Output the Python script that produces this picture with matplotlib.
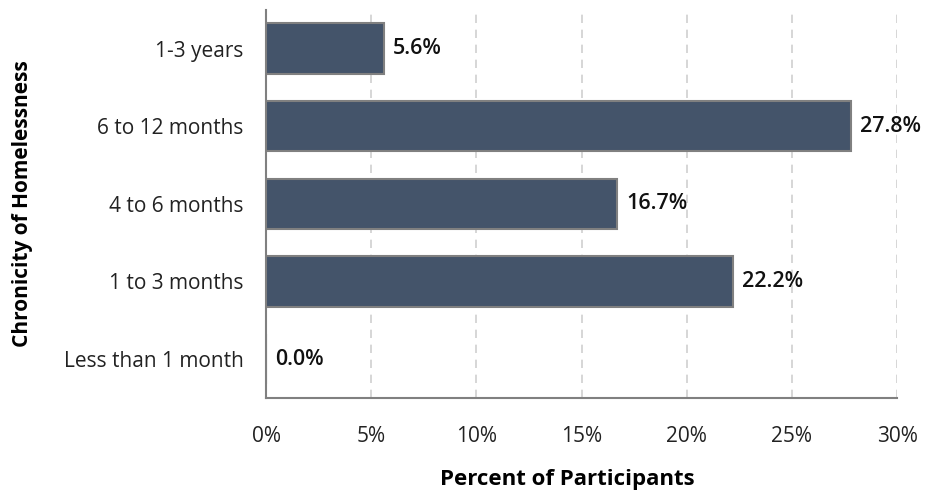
import matplotlib.pyplot as plt

categories = ["Less than 1 month", "1 to 3 months", "4 to 6 months", "6 to 12 months", "1-3 years"]
values = [0.0, 22.2, 16.7, 27.8, 5.6]
xticks = [0, 5, 10, 15, 20, 25, 30]

plt.rcParams['font.family'] = ['Open Sans', 'DejaVu Sans']

fig = plt.figure(figsize=(9.25, 4.93), dpi=100)
ax = fig.add_axes([0.2876, 0.193, 0.6822, 0.787])

ax.barh(range(len(categories)), values, height=0.65, color='#44546A',
        edgecolor='#808080', linewidth=1.5, zorder=3)

for i, v in enumerate(values):
    ax.text(v + 0.45, i, f"{v:.1f}%", va='center', ha='left', fontsize=15.5,
            color='#111111', fontweight='semibold', zorder=4)

ax.set_xlim(0, 30)
ax.set_ylim(-0.5, 4.5)
ax.set_xticks(xticks)
ax.set_xticklabels([f"{t}%" for t in xticks])
ax.set_yticks(range(len(categories)))
ax.set_yticklabels(categories)
ax.tick_params(axis='both', length=0, labelsize=15, colors='#222222')
ax.tick_params(axis='x', pad=20)
ax.tick_params(axis='y', pad=16)

ax.grid(axis='x', linestyle=(0, (5, 4)), color='#d0d0d0', linewidth=1.2, zorder=0)
ax.set_axisbelow(True)
for s in ['top', 'right']:
    ax.spines[s].set_visible(False)
for s in ['left', 'bottom']:
    ax.spines[s].set_color('#808080')
    ax.spines[s].set_linewidth(1.5)

ax.set_xlabel("Percent of Participants", fontsize=16, fontweight='bold')
ax.xaxis.set_label_coords(0.477, -0.183)
ax.set_ylabel("Chronicity of Homelessness", fontsize=15, fontweight='bold', labelpad=22)

fig.savefig("out.png", dpi=100)
